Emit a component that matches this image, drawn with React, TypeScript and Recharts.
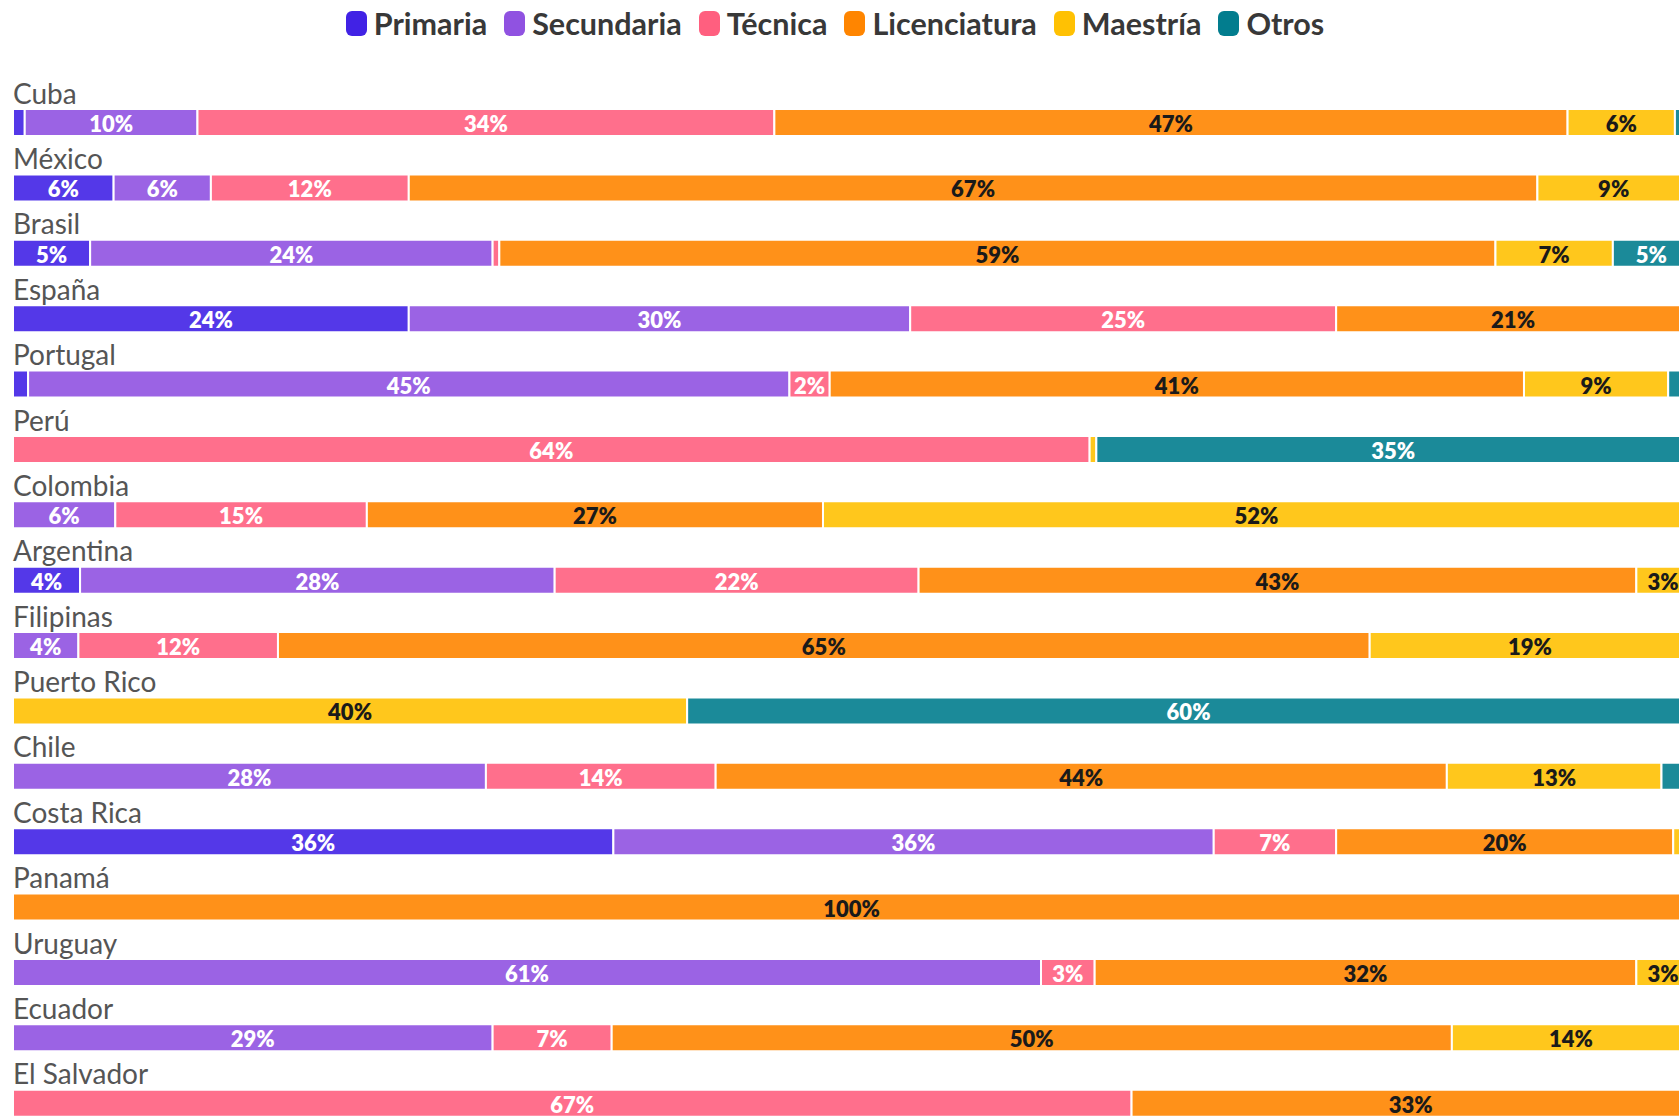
import React from 'react';
import { BarChart, Bar, XAxis, YAxis, Legend, LabelList } from 'recharts';

const countries = [
  'Cuba', 'México', 'Brasil', 'España', 'Portugal', 'Perú', 'Colombia', 'Argentina',
  'Filipinas', 'Puerto Rico', 'Chile', 'Costa Rica', 'Panamá', 'Uruguay', 'Ecuador', 'El Salvador',
];
const primaria = [0.7, 6.0, 4.6, 23.6, 0.9, 0, 0, 4.0, 0, 0, 0, 35.8, 0, 0, 0, 0];
const secundaria = [10.3, 5.8, 24.0, 29.9, 45.4, 0, 6.1, 28.3, 3.9, 0, 28.2, 35.8, 0, 61.3, 28.6, 0];
const tecnica = [34.4, 11.8, 0.4, 25.4, 2.4, 64.2, 15.0, 21.7, 11.9, 0, 13.7, 7.3, 0, 3.2, 7.1, 66.7];
const licenciatura = [47.3, 67.3, 59.4, 21.1, 41.4, 0, 27.2, 42.8, 65.1, 0, 43.6, 20.1, 100, 32.3, 50.1, 33.3];
const maestria = [6.4, 9.1, 7.0, 0, 8.6, 0.4, 51.7, 3.2, 19.1, 40.2, 12.8, 1.0, 0, 3.2, 14.2, 0];
const otros = [0.9, 0, 4.6, 0, 1.3, 35.4, 0, 0, 0, 59.8, 1.7, 0, 0, 0, 0, 0];

const series = [
  { key: 'Primaria', values: primaria, color: '#4122E5', text: '#fff' },
  { key: 'Secundaria', values: secundaria, color: '#9052E1', text: '#fff' },
  { key: 'Técnica', values: tecnica, color: '#FF5F7F', text: '#fff' },
  { key: 'Licenciatura', values: licenciatura, color: '#FF8500', text: '#1a1a1a' },
  { key: 'Maestría', values: maestria, color: '#FFC103', text: '#1a1a1a' },
  { key: 'Otros', values: otros, color: '#027D8E', text: '#fff' },
];
const order = series.map((s) => s.key);

const data = countries.map((country, i) => {
  const row: Record<string, any> = { country };
  series.forEach((s) => (row[s.key] = s.values[i]));
  return row;
});

const FONT = 'Lato, "Open Sans", sans-serif';
const LEFT = 12;

const CountryTick = (props: any) => {
  const { y, payload } = props;
  return (
    <text x={LEFT + 1} y={y - 30} dominantBaseline="central" textAnchor="start"
      fill="#555" fontSize={28} fontFamily={FONT}>
      {payload.value}
    </text>
  );
};

const makeLabel = (color: string) => (props: any) => {
  const { x, y, width, height, value } = props;
  if (value == null || value < 2.2) return null;
  return (
    <text x={x + width / 2} y={y + height / 2 + 1} textAnchor="middle" dominantBaseline="central"
      fill={color} fontSize={22} fontWeight={800} fontFamily={FONT}>
      {Math.round(value)}%
    </text>
  );
};

const LegendContent = (props: any) => {
  const payload = [...(props.payload || [])].sort(
    (a: any, b: any) => order.indexOf(a.value) - order.indexOf(b.value)
  );
  return (
    <div style={{ display: 'flex', justifyContent: 'center', alignItems: 'center', gap: 17, fontFamily: FONT }}>
      {payload.map((p: any) => (
        <div key={p.value} style={{ display: 'flex', alignItems: 'center' }}>
          <span style={{ display: 'inline-block', width: 21, height: 25, borderRadius: 6, background: p.color, marginRight: 7 }} />
          <span style={{ fontSize: 30.5, fontWeight: 700, color: '#383838' }}>{p.value}</span>
        </div>
      ))}
    </div>
  );
};

export default function App() {
  return (
    <div style={{ position: 'fixed', left: 0, top: 0, width: 1679, height: 1116, overflow: 'hidden', background: '#fff' }}>
      <BarChart width={1703} height={1140} data={data} layout="vertical"
        margin={{ top: 90, right: 13, bottom: 4, left: LEFT }}>
        <XAxis type="number" domain={[0, 100]} hide />
        <YAxis type="category" dataKey="country" width={1} axisLine={false} tickLine={false}
          interval={0} tick={<CountryTick />} />
        <Legend verticalAlign="middle" wrapperStyle={{ top: 5, left: 0, width: 1670 }} content={<LegendContent />} />
        {series.map((s) => (
          <Bar key={s.key} dataKey={s.key} stackId="a" fill={s.color} fillOpacity={0.9}
            stroke="#fff" strokeWidth={2} barSize={27} isAnimationActive={false}>
            <LabelList dataKey={s.key} content={makeLabel(s.text)} />
          </Bar>
        ))}
      </BarChart>
    </div>
  );
}
